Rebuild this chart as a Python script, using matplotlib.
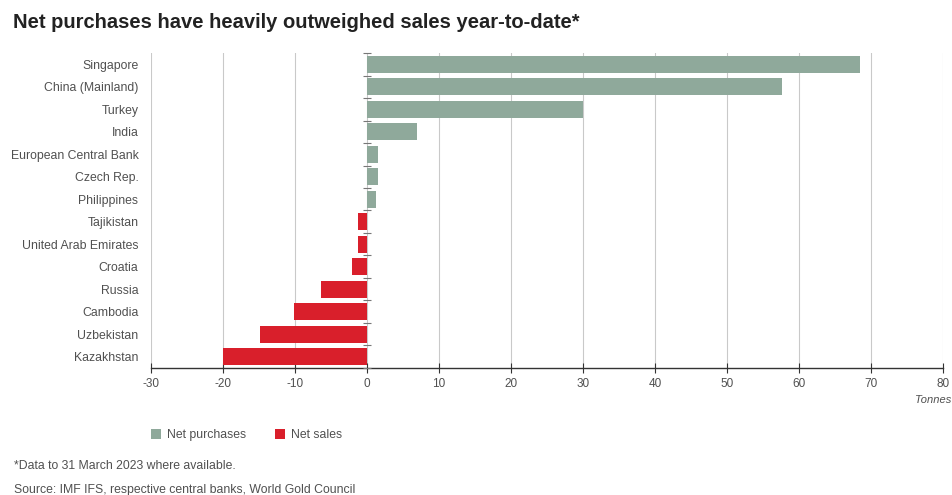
import matplotlib
matplotlib.use("Agg")
import matplotlib.pyplot as plt
from matplotlib.patches import Patch

plt.rcParams['font.family'] = ['Liberation Sans', 'DejaVu Sans']

countries = ["Singapore", "China (Mainland)", "Turkey", "India",
             "European Central Bank", "Czech Rep.", "Philippines",
             "Tajikistan", "United Arab Emirates", "Croatia", "Russia",
             "Cambodia", "Uzbekistan", "Kazakhstan"]
tonnes = [68.5, 57.7, 30.0, 7.0, 1.5, 1.5, 1.2,
          -1.3, -1.3, -2.1, -6.4, -10.2, -14.8, -20.0]
x_ticks = [-30, -20, -10, 0, 10, 20, 30, 40, 50, 60, 70, 80]

GREEN = "#8fa99b"
RED = "#d91f2b"
GRID = "#c9c9c9"
TEXT = "#505050"

fig = plt.figure(figsize=(9.53, 4.95), dpi=100)
ax = fig.add_axes([0.1584, 0.2566, 0.8311, 0.6363])

ypos = list(range(len(countries)))
colors = [GREEN if v >= 0 else RED for v in tonnes]
ax.barh(ypos, tonnes, height=0.76, color=colors, zorder=3)

ax.set_ylim(len(countries) - 0.5, -0.5)
ax.set_xlim(x_ticks[0], x_ticks[-1])
ax.set_xticks(x_ticks)
ax.set_xticklabels([str(t) for t in x_ticks], fontsize=8.5, color=TEXT)
ax.set_yticks(ypos)
ax.set_yticklabels(countries, fontsize=8.8, color=TEXT)
ax.tick_params(axis='y', length=0, pad=9)
ax.tick_params(axis='x', direction='inout', length=7, width=0.8,
               color="#333333", pad=4)

ax.grid(axis='x', color=GRID, linewidth=0.8, zorder=0)
for side in ("top", "right", "left"):
    ax.spines[side].set_visible(False)
ax.spines["bottom"].set_color("#333333")
ax.spines["bottom"].set_linewidth(1.0)

# small category separators along the zero line
bounds = [i - 0.5 for i in range(len(countries) + 1)]
ax.plot([0] * len(bounds), bounds, linestyle='none', marker='_',
        markersize=6, color="#777777", markeredgewidth=0.8, zorder=4,
        clip_on=False)

fig.text(0.998, 0.192, "Tonnes", fontsize=8, style='italic',
         color=TEXT, ha='right', va='center')

fig.text(0.014, 0.955, "Net purchases have heavily outweighed sales year-to-date*",
         fontsize=14.5, fontweight='bold', color="#222222", ha='left', va='center')

handles = [Patch(facecolor=GREEN, label="Net purchases"),
           Patch(facecolor=RED, label="Net sales")]
fig.legend(handles=handles, loc='center left', bbox_to_anchor=(0.147, 0.121),
           ncol=2, frameon=False, fontsize=8.8, handlelength=0.8,
           handleheight=0.8, handletextpad=0.5, columnspacing=2.4,
           labelcolor=TEXT)

fig.text(0.015, 0.058, "*Data to 31 March 2023 where available.",
         fontsize=8.8, color=TEXT, ha='left', va='center')
fig.text(0.015, 0.011, "Source: IMF IFS, respective central banks, World Gold Council",
         fontsize=8.8, color=TEXT, ha='left', va='center')

fig.savefig("out.png", dpi=100)
